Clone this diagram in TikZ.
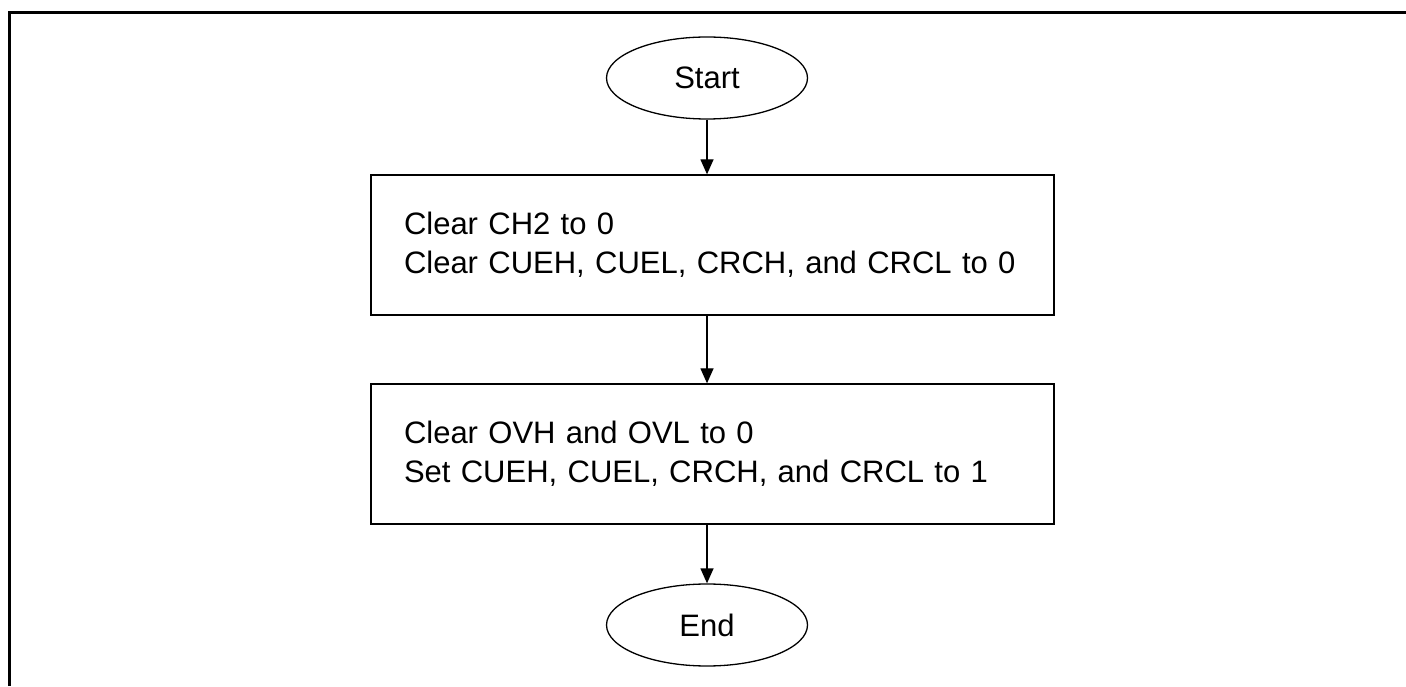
\documentclass[tikz,border=0pt]{standalone}
\usepackage{fontspec}
\setmainfont{Liberation Sans}
\usetikzlibrary{shapes.geometric,arrows.meta}
\begin{document}
\begin{tikzpicture}[x=1pt,y=1pt,
  term/.style={draw,line width=1.3pt,ellipse,minimum width=201pt,minimum height=82pt,inner sep=0pt,font=\fontsize{31}{39}\selectfont},
  procbox/.style={draw,line width=1.3pt,rectangle,minimum width=683pt,minimum height=140pt,inner xsep=33pt,inner ysep=0pt,text width=617pt,align=left,font=\fontsize{31}{39}\selectfont},
  flow/.style={line width=1.3pt,-{Triangle[length=15pt,width=13pt]}},
  frame/.style={line width=3pt}]
\useasboundingbox (0,0) rectangle (1406,686);
\draw[frame] (9.5,0) -- (9.5,673.5) -- (1406,673.5);
\node[term] (start) at (707,608) {Start};
\node[procbox] (b1) at (712.5,441) {Clear CH2 to 0\\Clear CUEH, CUEL, CRCH, and CRCL to 0};
\node[procbox] (b2) at (712.5,232) {Clear OVH and OVL to 0\\Set CUEH, CUEL, CRCH, and CRCL to 1};
\node[term] (end) at (707,61) {End};
\draw[flow] (start.south) -- (start.south |- b1.north);
\draw[flow] (start.south |- b1.south) -- (start.south |- b2.north);
\draw[flow] (start.south |- b2.south) -- (end.north);
\end{tikzpicture}
\end{document}
